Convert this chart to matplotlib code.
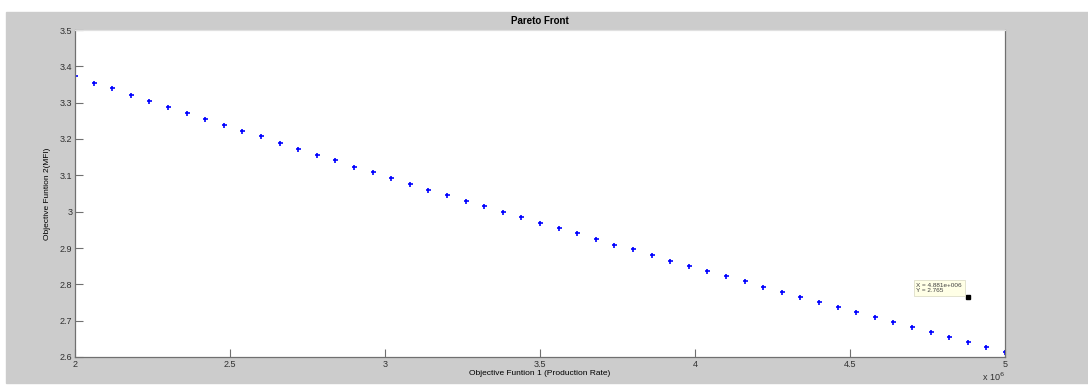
import matplotlib
matplotlib.use("Agg")
import matplotlib.pyplot as plt
from matplotlib.patches import Rectangle

plt.rcParams['font.family'] = ['Liberation Sans', 'DejaVu Sans']

# production rate, in units of 1e6
rate = [2.00, 2.06, 2.12, 2.18, 2.24, 2.30, 2.36, 2.42, 2.48, 2.54,
        2.60, 2.66, 2.72, 2.78, 2.84, 2.90, 2.96, 3.02, 3.08, 3.14,
        3.20, 3.26, 3.32, 3.38, 3.44, 3.50, 3.56, 3.62, 3.68, 3.74,
        3.80, 3.86, 3.92, 3.98, 4.04, 4.10, 4.16, 4.22, 4.28, 4.34,
        4.40, 4.46, 4.52, 4.58, 4.64, 4.70, 4.76, 4.82, 4.88, 4.94,
        5.00]
mfi = [3.374, 3.355, 3.339, 3.322, 3.305, 3.288, 3.272, 3.255, 3.239, 3.222,
       3.207, 3.190, 3.172, 3.157, 3.141, 3.124, 3.109, 3.093, 3.077, 3.061,
       3.046, 3.030, 3.016, 3.000, 2.984, 2.970, 2.955, 2.940, 2.925, 2.909,
       2.896, 2.880, 2.865, 2.851, 2.837, 2.822, 2.808, 2.793, 2.779, 2.765,
       2.751, 2.737, 2.723, 2.710, 2.696, 2.682, 2.668, 2.654, 2.642, 2.627,
       2.613]

tip_x = 4.881
tip_y = 2.765

xticks = [2, 2.5, 3, 3.5, 4, 4.5, 5]
xlabels = ['2', '2.5', '3', '3.5', '4', '4.5', '5']
yticks = [2.6, 2.7, 2.8, 2.9, 3.0, 3.1, 3.2, 3.3, 3.4, 3.5]
ylabels = ['2.6', '2.7', '2.8', '2.9', '3', '3.1', '3.2', '3.3', '3.4', '3.5']

W, H = 1088, 385
fig = plt.figure(figsize=(W / 100, H / 100), dpi=100, facecolor='white')
bg = Rectangle((6 / W, 2 / H), (W - 6) / W, (383 - 12) / H,
               transform=fig.transFigure, color='#cccccc', zorder=-10)
fig.patches.append(bg)

ax = fig.add_axes([75 / W, (H - 357) / H, 930 / W, 327 / H])
ax.set_zorder(5)
ax.plot(rate, mfi, '+', color='#0000ff', markersize=3.6, mew=1.2)

ax.set_xlim(2, 5)
ax.set_ylim(2.6, 3.5)
ax.set_xticks(xticks)
ax.set_xticklabels(xlabels)
ax.set_yticks(yticks)
ax.set_yticklabels(ylabels)
ax.tick_params(direction='in', length=6, width=0.8, color='#707070',
               labelsize=6.5, labelcolor='#303030', pad=2, top=False, right=False)
for s in ax.spines.values():
    s.set_color('#707070')
    s.set_linewidth(0.9)
ax.spines['top'].set_color('#e0e0e0')

ax.set_title('Pareto Front', fontsize=7, fontweight='bold', pad=4)
ax.set_xlabel('Objective Funtion 1 (Production Rate)', fontsize=6, labelpad=1)
ax.set_ylabel('Objective Funtion 2(MFI)', fontsize=6, labelpad=6)
ax.text(1.0, -0.062, 'x 10$^6$', transform=ax.transAxes, fontsize=6.5,
        ha='right', va='center', color='#303030')

# data tip
ax.plot([tip_x], [tip_y], 's', color='black', markersize=3.2)
ax.annotate('X = 4.881e+006\nY = 2.765', xy=(tip_x, tip_y), xytext=(-6, 4),
            textcoords='offset pixels', fontsize=4.6, color='#404040',
            ha='right', va='bottom', multialignment='left', linespacing=1.1,
            bbox=dict(boxstyle='square,pad=0.45', fc='#ffffe6', ec='#d8d8c0', lw=0.5))

fig.savefig('out.png', dpi=100, facecolor=fig.get_facecolor())
